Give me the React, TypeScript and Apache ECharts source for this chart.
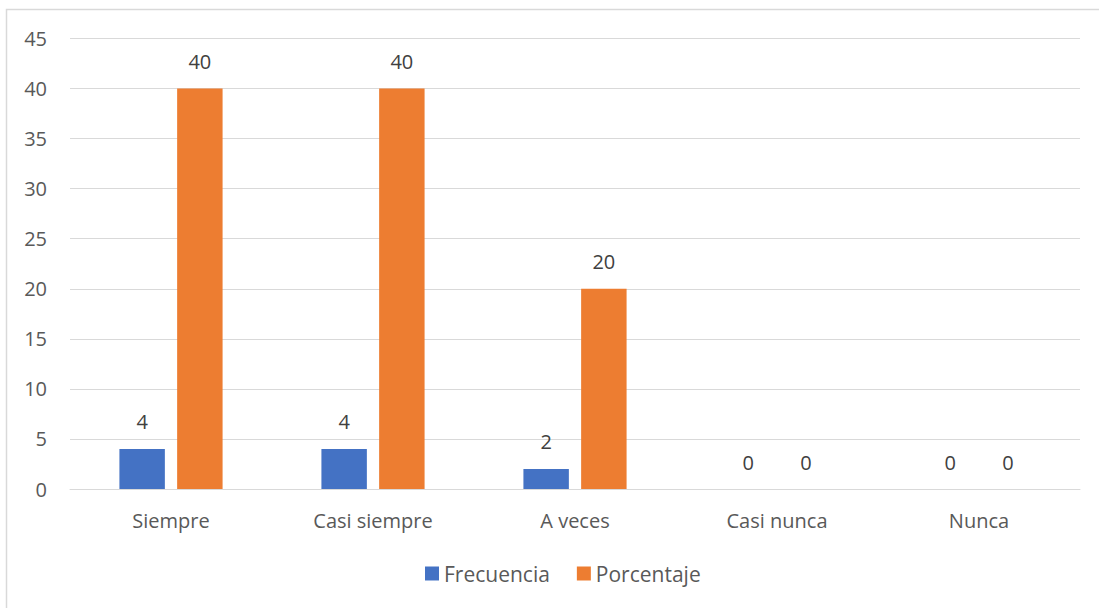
import React, { useEffect, useRef } from "react";
import * as echarts from "echarts";

const categories = ["Siempre", "Casi siempre", "A veces", "Casi nunca", "Nunca"];
const frecuencia = [4, 4, 2, 0, 0];
const porcentaje = [40, 40, 20, 0, 0];
const seriesNames = ["Frecuencia", "Porcentaje"];

const FONT = "'Open Sans', 'Noto Sans', sans-serif";

export default function App() {
  const ref = useRef<HTMLDivElement>(null);
  useEffect(() => {
    if (!ref.current) return;
    const chart = echarts.init(ref.current, null, { renderer: "svg" });
    const label = {
      show: true,
      position: "top",
      distance: 17,
      color: "#404040",
      fontSize: 20,
      fontFamily: FONT,
    };
    chart.setOption({
      animation: false,
      backgroundColor: "#ffffff",
      textStyle: { fontFamily: FONT },
      graphic: [
        {
          type: "rect",
          shape: { x: 6.5, y: 9.5, width: 1200, height: 700 },
          style: { fill: "none", stroke: "#d9d9d9", lineWidth: 1.5 },
          silent: true,
          z: -1,
        },
      ],
      grid: { left: 70, right: 19, top: 38.5, bottom: 119, containLabel: false },
      legend: {
        bottom: 19,
        left: 420,
        padding: 5,
        itemWidth: 14,
        itemHeight: 14,
        itemGap: 27,
        icon: "rect",
        textStyle: { color: "#595959", fontSize: 21, fontFamily: FONT },
        data: seriesNames,
      },
      xAxis: {
        type: "category",
        data: categories,
        axisLine: { show: true, lineStyle: { color: "#d9d9d9", width: 1 } },
        axisTick: { show: false },
        axisLabel: { color: "#595959", fontSize: 20, fontFamily: FONT, margin: 21 },
      },
      yAxis: {
        type: "value",
        min: 0,
        max: 45,
        interval: 5,
        axisLine: { show: false },
        axisTick: { show: false },
        axisLabel: { color: "#595959", fontSize: 20, fontFamily: FONT, margin: 23 },
        splitLine: { lineStyle: { color: "#d9d9d9", width: 1 } },
      },
      series: [
        {
          name: seriesNames[0],
          type: "bar",
          data: frecuencia,
          barWidth: "22.5%",
          barGap: "27%",
          itemStyle: { color: "#4472c4" },
          label,
        },
        {
          name: seriesNames[1],
          type: "bar",
          data: porcentaje,
          barWidth: "22.5%",
          itemStyle: { color: "#ed7d31" },
          label,
        },
      ],
    });
    return () => chart.dispose();
  }, []);
  return (
    <div
      ref={ref}
      style={{ position: "fixed", left: 0, top: 0, width: 1099, height: 608, background: "#fff" }}
    />
  );
}
